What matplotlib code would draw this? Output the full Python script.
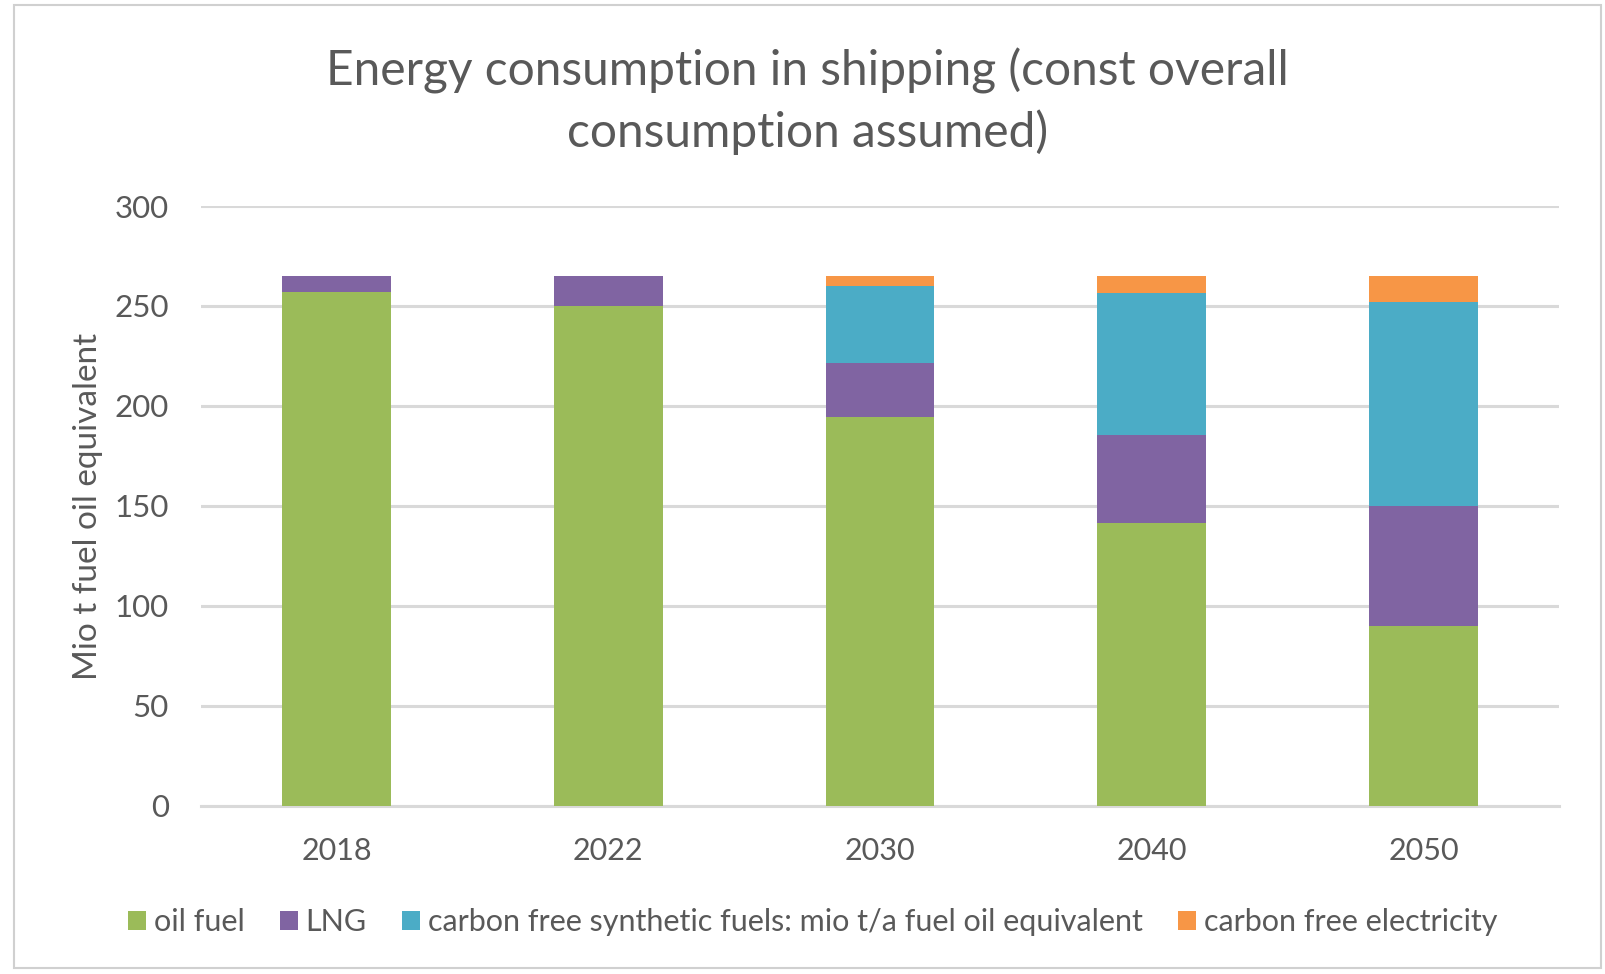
import matplotlib
matplotlib.use("Agg")
import matplotlib.pyplot as plt
from matplotlib.patches import Rectangle
import numpy as np

plt.rcParams['font.family'] = ['Lato', 'DejaVu Sans']

years = ["2018", "2022", "2030", "2040", "2050"]
oil_fuel = [257, 250, 194.5, 141.5, 90]
lng = [8, 15, 27, 44, 60]
synthetic = [0, 0, 38.5, 71, 102]
electricity = [0, 0, 5, 8.5, 13]

series_names = ["oil fuel", "LNG",
                "carbon free synthetic fuels: mio t/a fuel oil equivalent",
                "carbon free electricity"]
colors = ["#9BBB59", "#8064A2", "#4BACC6", "#F79646"]
text_color = "#595959"

fig = plt.figure(figsize=(16.06, 9.74), dpi=100)
ax = fig.add_axes([0.125, 0.1725, 0.846, 0.616])

x = np.arange(len(years))
bottom = np.zeros(len(years))
for vals, name, col in zip([oil_fuel, lng, synthetic, electricity], series_names, colors):
    vals = np.array(vals, dtype=float)
    ax.bar(x, vals, width=0.4, bottom=bottom, color=col, label=name, zorder=3)
    bottom += vals

ax.set_xlim(-0.5, len(years) - 0.5)
ax.set_ylim(0, 300)
ax.set_yticks(np.arange(0, 301, 50))
ax.set_xticks(x)
ax.set_xticklabels(years)
ax.yaxis.grid(True, color="#d9d9d9", linewidth=2.2, zorder=0)
ax.set_axisbelow(True)
for side in ["top", "right", "left"]:
    ax.spines[side].set_visible(False)
ax.spines["bottom"].set_color("#d9d9d9")
ax.spines["bottom"].set_linewidth(2.2)
ax.tick_params(axis="both", length=0, colors=text_color)
ax.tick_params(axis="y", labelsize=22.5, pad=23)
ax.tick_params(axis="x", labelsize=22, pad=22)
ax.set_ylabel("Mio t fuel oil equivalent", fontsize=24, color=text_color, labelpad=8)

fig.text(0.503, 0.8955, "Energy consumption in shipping (const overall\nconsumption assumed)",
         ha="center", va="center", fontsize=34.5, color=text_color, linespacing=1.4)

leg = fig.legend(loc="center", bbox_to_anchor=(0.506, 0.053), ncol=4, frameon=False,
                 fontsize=22, handlelength=0.6, handleheight=0.6, handletextpad=0.25,
                 columnspacing=1.15, labelcolor=text_color)

fig.patches.append(Rectangle((0.009, 0.006), 0.988, 0.989, transform=fig.transFigure,
                             fill=False, edgecolor="#d0d0d0", linewidth=1.5))

fig.savefig("out.png", dpi=100, facecolor="white")
